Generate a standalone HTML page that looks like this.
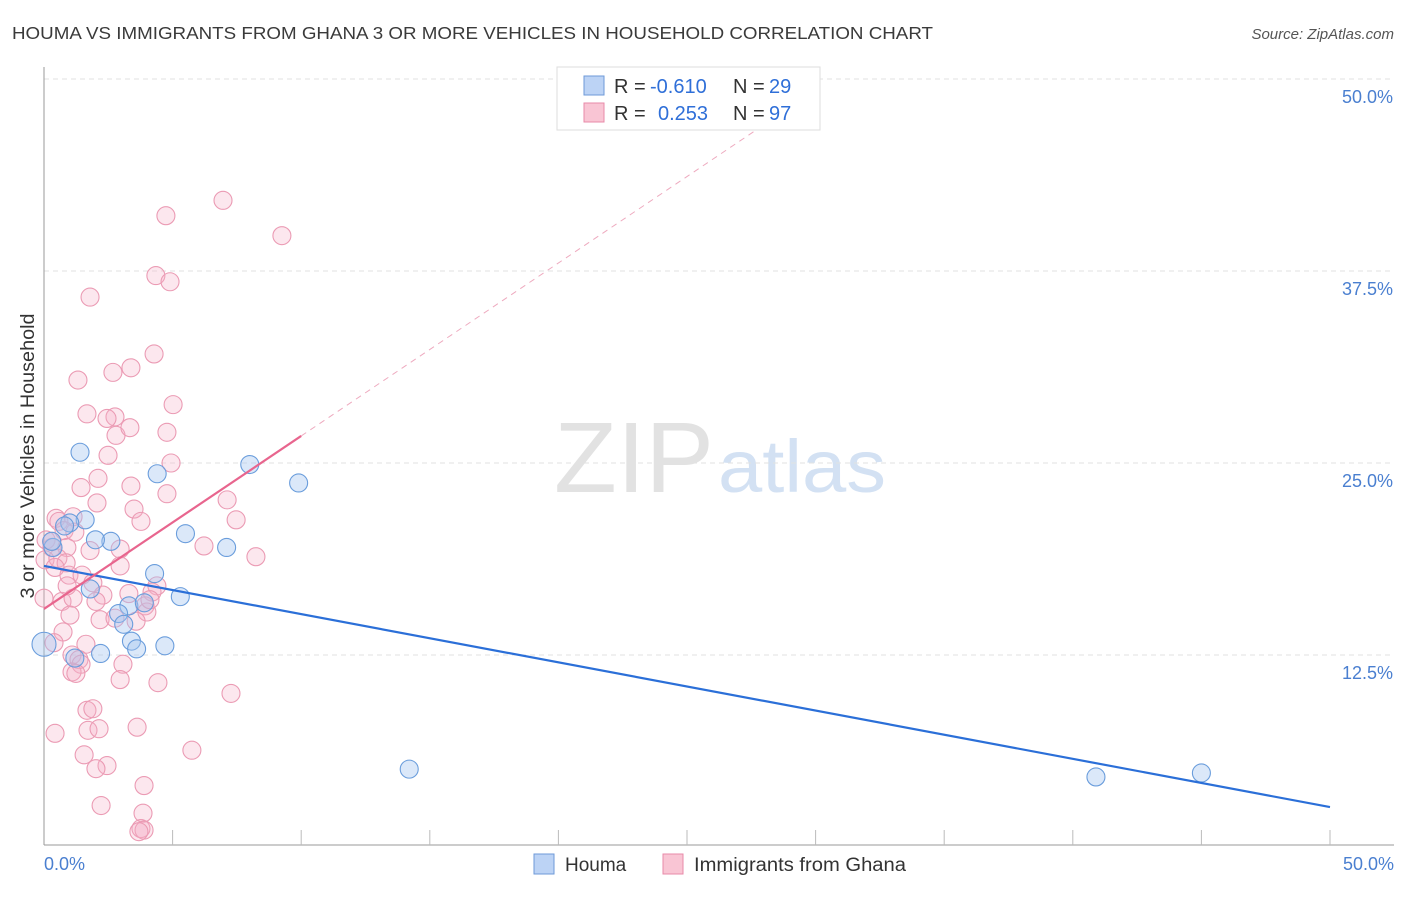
<!DOCTYPE html>
<html><head><meta charset="utf-8"><style>
body{margin:0;background:#fff;font-family:"Liberation Sans",sans-serif;}
svg text{font-family:"Liberation Sans",sans-serif;}
</style></head><body>
<svg id="chart" width="1406" height="892" xmlns="http://www.w3.org/2000/svg">
<text x="12" y="39" font-size="17.5" fill="#3a3a3a" textLength="921" lengthAdjust="spacingAndGlyphs">HOUMA VS IMMIGRANTS FROM GHANA 3 OR MORE VEHICLES IN HOUSEHOLD CORRELATION CHART</text>
<text x="1394" y="39" font-size="15" fill="#555" text-anchor="end" font-style="italic">Source: ZipAtlas.com</text>
<text transform="translate(34,456) rotate(-90)" font-size="19" fill="#333" text-anchor="middle" textLength="285" lengthAdjust="spacingAndGlyphs">3 or more Vehicles in Household</text>
<text x="554" y="492" font-size="100" fill="#e2e2e2" font-family="Liberation Serif" textLength="160" lengthAdjust="spacingAndGlyphs">ZIP</text>
<text x="718" y="492" font-size="74" fill="#d3e1f3" textLength="168" lengthAdjust="spacingAndGlyphs">atlas</text>
<g id="grid"></g>
<g id="marks"></g>
<g>
<rect x="557" y="67" width="263" height="63" fill="#fff" stroke="#ddd"/>
<rect x="584" y="76" width="20" height="19" fill="#bcd3f5" stroke="#6e9ad8"/>
<rect x="584" y="103" width="20" height="19" fill="#f9c5d4" stroke="#e88aa8"/>
<text x="614" y="93" font-size="20" fill="#333">R = </text><text x="650" y="93" font-size="20" fill="#2f6fd8">-0.610</text>
<text x="733" y="93" font-size="20" fill="#333">N = </text><text x="769" y="93" font-size="20" fill="#2f6fd8">29</text>
<text x="614" y="120" font-size="20" fill="#333">R = </text><text x="658" y="120" font-size="20" fill="#2f6fd8">0.253</text>
<text x="733" y="120" font-size="20" fill="#333">N = </text><text x="769" y="120" font-size="20" fill="#2f6fd8">97</text>
</g>
<g>
<rect x="534" y="854" width="20" height="20" fill="#bcd3f5" stroke="#6e9ad8"/>
<text x="565" y="871" font-size="19" fill="#333">Houma</text>
<rect x="663" y="854" width="20" height="20" fill="#f9c5d4" stroke="#e88aa8"/>
<text x="694" y="871" font-size="19" fill="#333" textLength="212" lengthAdjust="spacingAndGlyphs">Immigrants from Ghana</text>
</g>
</svg>
<script>
const yTicks=[12.5,25,37.5,50];
const yTickLabels=["12.5%","25.0%","37.5%","50.0%"];
const xTickLabels=["0.0%","50.0%"];
const houmaX=[0,1.4,4.4,8.0,9.9,1.6,1.0,0.8,2.6,2.0,5.5,7.1,0.35,0.3,4.3,5.3,1.8,3.3,2.9,3.9,3.1,3.4,3.6,4.7,2.2,1.2,14.2,40.9,45.0];
const houmaY=[13.2,25.7,24.3,24.9,23.7,21.3,21.1,20.9,19.9,20.0,20.4,19.5,19.5,19.9,17.8,16.3,16.8,15.7,15.2,15.9,14.5,13.4,12.9,13.1,12.6,12.3,5.07,4.56,4.82];
const ghanaX=[6.96,4.74,9.25,1.79,4.35,4.9,4.28,1.32,2.68,3.38,1.67,2.76,2.45,5.02,2.8,3.34,4.78,2.49,4.94,2.1,3.38,1.44,7.12,4.78,2.06,3.5,3.77,7.47,0.47,1.13,0.58,0.78,1.2,6.22,8.24,1.79,2.96,0.08,0.31,0.89,0.04,0.54,0.86,0.43,0.97,1.48,1.9,4.39,4.2,2.29,3.3,0.7,1.13,2.02,3.93,4.0,1.01,2.18,2.76,0.74,1.63,1.09,0.39,3.07,1.36,1.44,1.09,1.24,2.96,4.43,7.27,0.43,1.67,1.9,1.71,2.14,3.62,1.56,2.45,2.02,5.75,3.89,2.22,3.85,3.77,3.89,3.69,2.96,4.12,3.58,0,0.3,0.9];
const ghanaY=[42.1,41.1,39.8,35.8,37.2,36.8,32.1,30.4,30.9,31.2,28.2,28.0,27.9,28.8,26.8,27.3,27.0,25.5,25.0,24.0,23.5,23.4,22.6,23.0,22.4,22.0,21.2,21.3,21.4,21.5,21.2,20.6,20.5,19.6,18.9,19.3,19.4,19.99,19.5,19.5,18.7,18.8,18.5,18.2,17.7,17.7,17.2,17.0,16.6,16.4,16.5,15.99,16.2,15.99,15.7,15.3,15.1,14.8,14.9,14.0,13.2,12.5,13.3,11.9,12.2,11.9,11.4,11.3,10.9,10.7,10.0,7.4,8.9,9.0,7.6,7.7,7.8,6.0,5.3,5.1,6.3,4.0,2.7,2.2,1.2,1.1,1.0,18.3,16.1,14.7,16.2,19.9,17.0];
const houmaLine=[18.3,-0.314];
const ghanaLine=[15.5,1.126];
const svgNS="http://www.w3.org/2000/svg";
const X=v=>44+v*25.72, Y=v=>847-v*15.36;
function mk(tag,attrs,parent){const e=document.createElementNS(svgNS,tag);for(const k in attrs)e.setAttribute(k,attrs[k]);parent.appendChild(e);return e;}
const grid=document.getElementById('grid'), marks=document.getElementById('marks');
yTicks.forEach((t,i)=>{
 const l=mk('line',{x1:44,x2:1394,y1:Y(t),y2:Y(t),stroke:'#e2e2e2','stroke-dasharray':'5,4'},grid);
 
 
 const tx=mk('text',{x:1393,y:Y(t)+24,'font-size':18,fill:'#4a7fd0','text-anchor':'end'},grid);
 tx.textContent=yTickLabels[i];
 
 
});
const ax=mk('line',{x1:44,x2:44,y1:67,y2:845,stroke:'#999'},grid);


const bx=mk('line',{x1:44,x2:1394,y1:845,y2:845,stroke:'#999'},grid);


for(let i=1;i<=10;i++){const t=mk('line',{x1:X(i*5),x2:X(i*5),y1:830,y2:845,stroke:'#bbb'},grid);
 
 }
[[0,'start',44],[50,'end',1394]].forEach((d,i)=>{const t=mk('text',{x:d[2],y:870,'font-size':18,fill:'#4a7fd0','text-anchor':d[1]},grid);t.textContent=xTickLabels[i];
 
 });
ghanaX.forEach((x,i)=>{const c=mk('circle',{cx:X(x),cy:Y(ghanaY[i]),r:9,fill:'rgba(246,175,198,0.3)',stroke:'#eb9bb4','stroke-width':1.1},marks);
 
 });
houmaX.forEach((x,i)=>{const c=mk('circle',{cx:X(x),cy:Y(houmaY[i]),r:i==0?12:9,fill:'rgba(165,198,240,0.4)',stroke:'#6a9ddc','stroke-width':1.1},marks);
 
 });
const hl=mk('line',{x1:X(0),y1:Y(houmaLine[0]),x2:X(50),y2:Y(houmaLine[0]+50*houmaLine[1]),stroke:'#2b6fd8','stroke-width':2.2},marks);


const gl=mk('line',{x1:X(0),y1:Y(ghanaLine[0]),x2:X(10),y2:Y(ghanaLine[0]+10*ghanaLine[1]),stroke:'#e8658e','stroke-width':2.2},marks);


const gd=mk('line',{x1:X(10),y1:Y(ghanaLine[0]+10*ghanaLine[1]),x2:X(29),y2:Y(ghanaLine[0]+29*ghanaLine[1]),stroke:'#eeaabf','stroke-width':1,'stroke-dasharray':'6,5'},marks);


</script>
</body></html>
